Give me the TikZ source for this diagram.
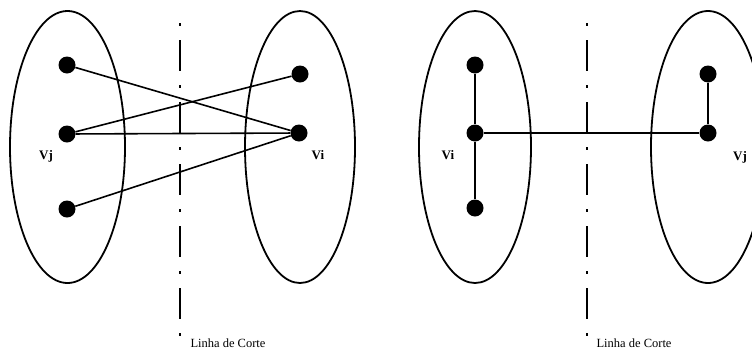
\documentclass[tikz,border=0pt]{standalone}
\usepackage{fontspec}
\setmainfont{Liberation Serif}
\begin{document}
\begin{tikzpicture}[x=1pt,y=-1pt,
  vert/.style={circle,fill=black,inner sep=0pt,minimum size=17pt},
  edge/.style={line width=1.6pt},
  set/.style={line width=1.8pt},
  cut/.style={line width=1.6pt,dash pattern=on 3pt off 14pt on 31pt off 14pt},
  lbl/.style={font=\fontsize{13}{14}\selectfont\bfseries},
  cutlbl/.style={font=\fontsize{12.5}{13}\selectfont,anchor=west}]
\useasboundingbox (0,0) rectangle (752,354);
% ---------- left panel ----------
\draw[set] (67.5,147) ellipse [x radius=57.5, y radius=136];
\draw[set] (300,147) ellipse [x radius=55, y radius=136];
\node[vert] (a1) at (67,65) {};
\node[vert] (a2) at (67,134) {};
\node[vert] (a3) at (67,209) {};
\node[vert] (b1) at (300,74) {};
\node[vert] (b2) at (299,133) {};
\draw[edge] (a1) -- (b2);
\draw[edge] (a2) -- (b1);
\draw[edge] (a2) -- (b2);
\draw[edge] (a3) -- (b2);
\node[lbl] (vj1) at (46,156) {Vj};
\node[lbl] (vi1) at (318,155) {Vi};
\coordinate (c1t) at (180,23);
\coordinate (c1b) at (180,345);
\draw[cut] (c1t) -- (c1b);
\node[cutlbl] (l1) at (187,343) {Linha de Corte};
% ---------- right panel ----------
\draw[set] (475,147) ellipse [x radius=56, y radius=136];
\draw[set] (708,147) ellipse [x radius=57, y radius=136];
\node[vert] (c1) at (475,65) {};
\node[vert] (c2) at (475,133) {};
\node[vert] (c3) at (475,208) {};
\node[vert] (d1) at (708,74) {};
\node[vert] (d2) at (708,133) {};
\draw[edge] (c1) -- (c2);
\draw[edge] (c2) -- (c3);
\draw[edge] (c2) -- (d2);
\draw[edge] (d1) -- (d2);
\node[lbl] (vi2) at (448,155) {Vi};
\node[lbl] (vj2) at (740,157) {Vj};
\coordinate (c2t) at (587,23);
\coordinate (c2b) at (587,345);
\draw[cut] (c2t) -- (c2b);
\node[cutlbl] (l2) at (593,343) {Linha de Corte};
\end{tikzpicture}
\end{document}
